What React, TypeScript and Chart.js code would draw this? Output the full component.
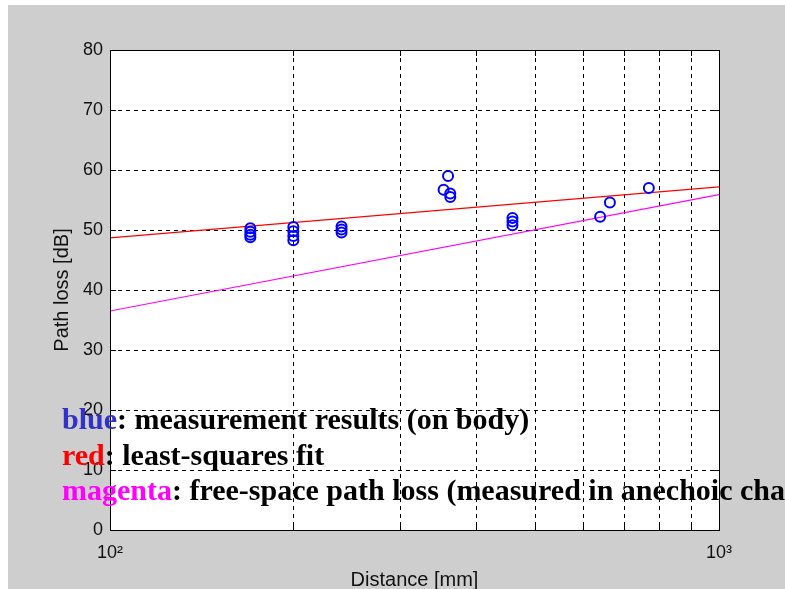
import React, { useEffect, useRef } from 'react';
import { Chart, registerables } from 'chart.js';

Chart.register(...registerables);

// ---- data ----
const distanceMm = [170, 170, 170, 170, 200, 200, 200, 200, 240, 240, 240, 353, 359, 362, 362, 458, 458, 458, 638, 662, 767];
const pathLossDb = [50.3, 49.7, 49.2, 48.8, 50.5, 49.8, 49.0, 48.3, 50.6, 50.1, 49.6, 56.7, 59.0, 56.1, 55.5, 52.0, 51.4, 50.8, 52.2, 54.6, 57.0];
const lineDistanceMm = [100, 1000];
const fitLossDb = [48.7, 57.2];
const freeSpaceLossDb = [36.5, 55.9];
const yMin = 0;
const yMax = 80;
const yStep = 10;
const xMin = 100;
const xMax = 1000;
const xGridValues = [100, 200, 300, 400, 500, 600, 700, 800, 900, 1000];
const xTickLabels: Record<number, string> = { 100: '10²', 1000: '10³' };
const noteWords = ['blue', 'red', 'magenta'];
const noteRests = [': measurement results (on body)', ': least-squares fit', ': free-space path loss (measured in anechoic chamber)'];
const noteColors = ['#3232c8', '#ff0000', '#ff00ff'];

const W = 777;
const H = 584;

const chartAreaFill = {
  id: 'areaFill',
  beforeDraw(chart: any) {
    const { ctx, chartArea } = chart;
    ctx.save();
    ctx.fillStyle = '#ffffff';
    ctx.fillRect(chartArea.left, chartArea.top, chartArea.right - chartArea.left, chartArea.bottom - chartArea.top);
    ctx.restore();
  },
};

const boxAndNotes = {
  id: 'boxAndNotes',
  afterDatasetsDraw(chart: any) {
    const { ctx, chartArea } = chart;
    const { left, right, top, bottom } = chartArea;
    const xs = chart.scales.x;
    const ys = chart.scales.y;
    const al = (p: number) => Math.round(p - 0.5) + 0.5;
    ctx.save();
    ctx.strokeStyle = '#000';
    ctx.lineWidth = 1;
    ctx.setLineDash([]);
    const tl = 6;
    ctx.beginPath();
    ys.ticks.forEach((t: any) => {
      const py = al(ys.getPixelForValue(t.value));
      ctx.moveTo(left, py); ctx.lineTo(left + tl, py);
      ctx.moveTo(right - tl, py); ctx.lineTo(right, py);
    });
    xs.ticks.forEach((t: any) => {
      const px = al(xs.getPixelForValue(t.value));
      ctx.moveTo(px, bottom); ctx.lineTo(px, bottom - tl);
      ctx.moveTo(px, top); ctx.lineTo(px, top + tl);
    });
    ctx.stroke();
    ctx.strokeRect(al(left), al(top), al(right) - al(left), al(bottom) - al(top));
    ctx.restore();
  },
  afterDraw(chart: any) {
    const { ctx } = chart;
    ctx.save();
    ctx.font = 'bold 30px "Liberation Serif", "Times New Roman", serif';
    ctx.textBaseline = 'alphabetic';
    ctx.textAlign = 'left';
    const x0 = 54;
    const baselines = [424, 460, 495];
    noteWords.forEach((w, i) => {
      ctx.fillStyle = noteColors[i];
      ctx.fillText(w, x0, baselines[i]);
      const wW = ctx.measureText(w).width;
      ctx.fillStyle = '#000';
      ctx.fillText(noteRests[i], x0 + wW, baselines[i]);
    });
    ctx.restore();
  },
};

export default function App() {
  const ref = useRef<HTMLCanvasElement | null>(null);
  useEffect(() => {
    document.body.style.overflow = 'hidden';
    const canvas = ref.current;
    if (!canvas) return;
    const points = distanceMm.map((d, i) => ({ x: d, y: pathLossDb[i] }));
    const fit = lineDistanceMm.map((d, i) => ({ x: d, y: fitLossDb[i] }));
    const free = lineDistanceMm.map((d, i) => ({ x: d, y: freeSpaceLossDb[i] }));
    const tickFont = { family: '"Liberation Sans", Arial, sans-serif', size: 18 };
    const titleFont = { family: '"Liberation Sans", Arial, sans-serif', size: 20 };
    const chart = new Chart(canvas, {
      type: 'scatter',
      data: {
        datasets: [
          {
            label: 'measurement',
            data: points,
            showLine: false,
            pointStyle: 'circle',
            pointRadius: 5,
            pointBorderWidth: 2,
            borderColor: '#0000ff',
            backgroundColor: 'rgba(0,0,0,0)',
            pointBorderColor: '#0000ff',
            pointBackgroundColor: 'rgba(0,0,0,0)',
          } as any,
          {
            label: 'fit',
            data: fit,
            showLine: true,
            pointRadius: 0,
            borderColor: '#ff0000',
            borderWidth: 1.2,
          } as any,
          {
            label: 'free space',
            data: free,
            showLine: true,
            pointRadius: 0,
            borderColor: '#ff00ff',
            borderWidth: 1.2,
          } as any,
        ],
      },
      options: {
        animation: false,
        responsive: false,
        maintainAspectRatio: false,
        devicePixelRatio: 1,
        layout: { padding: { left: 0, top: 45, right: 66, bottom: 0 } },
        plugins: {
          legend: { display: false },
          tooltip: { enabled: false },
        },
        scales: {
          x: {
            type: 'logarithmic',
            position: 'bottom',
            min: xMin,
            max: xMax,
            afterBuildTicks: (s: any) => { s.ticks = xGridValues.map((v) => ({ value: v, major: false })); },
            afterFit: (s: any) => { s.height = 59; },
            grid: { color: '#000', lineWidth: 1, drawTicks: false },
            border: { display: false, dash: [4, 4] },
            ticks: {
              autoSkip: false,
              maxRotation: 0,
              padding: 12,
              color: '#111',
              font: tickFont,
              callback: (v: any) => xTickLabels[Number(v)] ?? '',
            },
            title: {
              display: true,
              text: 'Distance [mm]',
              color: '#111',
              font: titleFont,
              padding: { top: 0, bottom: -3 },
            },
          } as any,
          y: {
            type: 'linear',
            min: yMin,
            max: yMax,
            afterFit: (s: any) => { s.width = 102; },
            grid: { color: '#000', lineWidth: 1, drawTicks: false },
            border: { display: false, dash: [4, 4] },
            ticks: {
              stepSize: yStep,
              padding: 7,
              color: '#111',
              font: tickFont,
            },
            title: {
              display: true,
              text: 'Path loss [dB]',
              color: '#111',
              font: titleFont,
              padding: { top: 42, bottom: 0 },
            },
          } as any,
        },
      },
      plugins: [chartAreaFill, boxAndNotes],
    });
    return () => chart.destroy();
  }, []);
  return (
    <div style={{ position: 'absolute', left: 8, top: 5, width: W, height: H, background: '#cecece', overflow: 'hidden' }}>
      <canvas ref={ref} width={W} height={H} style={{ display: 'block', width: W, height: H }} />
    </div>
  );
}
